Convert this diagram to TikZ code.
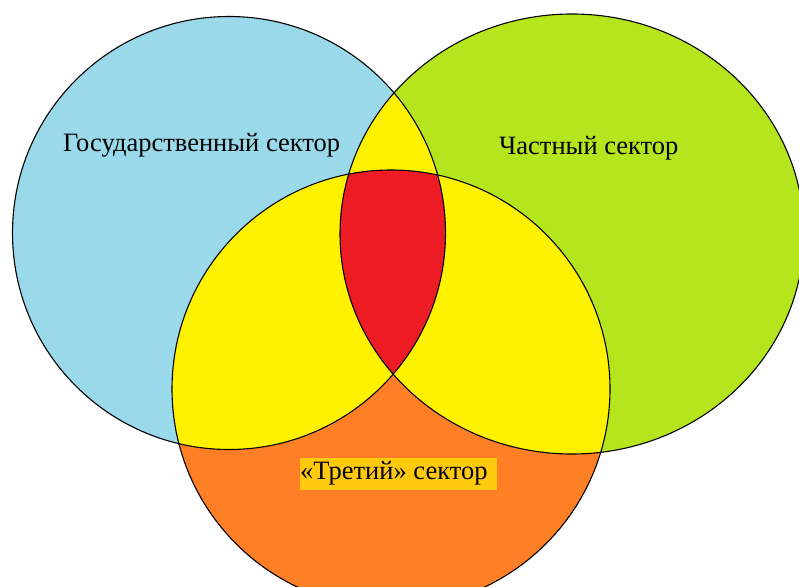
\documentclass[tikz,border=0pt]{standalone}
\usepackage{fontspec}
\setmainfont{Liberation Serif}
\definecolor{cblue}{HTML}{99D9EA}
\definecolor{cgreen}{HTML}{B5E61D}
\definecolor{cyellow}{HTML}{FFF200}
\definecolor{cred}{HTML}{ED1C24}
\definecolor{corange}{HTML}{FF7F27}
\definecolor{cgold}{HTML}{FFC90E}
\def\blueshape{(229,233) ellipse [x radius=216.5, y radius=216.5]}
\def\greenshape{(572,234) ellipse [x radius=232, y radius=220]}
\def\orangeshape{(391,389) ellipse [x radius=219, y radius=219]}
\tikzset{
  outline/.style={draw=black, line width=1.1pt},
  label/.style={inner sep=0pt, font=\fontspec{Liberation Serif}\fontsize{26.5}{30}\selectfont, text=black}
}
\begin{document}
\begin{tikzpicture}[x=1pt,y=-1pt]
\useasboundingbox (0,0) rectangle (799,586);
\clip (0,0) rectangle (799,586);
\fill[white] (0,0) rectangle (799,586);
\fill[cblue] \blueshape;
\fill[cgreen] \greenshape;
\fill[corange] \orangeshape;
\begin{scope}
  \clip \blueshape;
  \fill[cyellow] \greenshape;
  \fill[cyellow] \orangeshape;
\end{scope}
\begin{scope}
  \clip \greenshape;
  \fill[cyellow] \orangeshape;
\end{scope}
\begin{scope}
  \clip \blueshape;
  \clip \greenshape;
  \fill[cred] \orangeshape;
\end{scope}
\draw[outline] \blueshape;
\draw[outline] \greenshape;
\draw[outline] \orangeshape;
\node[label, anchor=west] (gov) at (63,145) {Государственный сектор};
\node[label, anchor=west] (priv) at (499,148) {Частный сектор};
\fill[cgold] (300,458) rectangle (497,490);
\node[label, anchor=west] (third) at (300,473) {«Третий» сектор};
\end{tikzpicture}
\end{document}
